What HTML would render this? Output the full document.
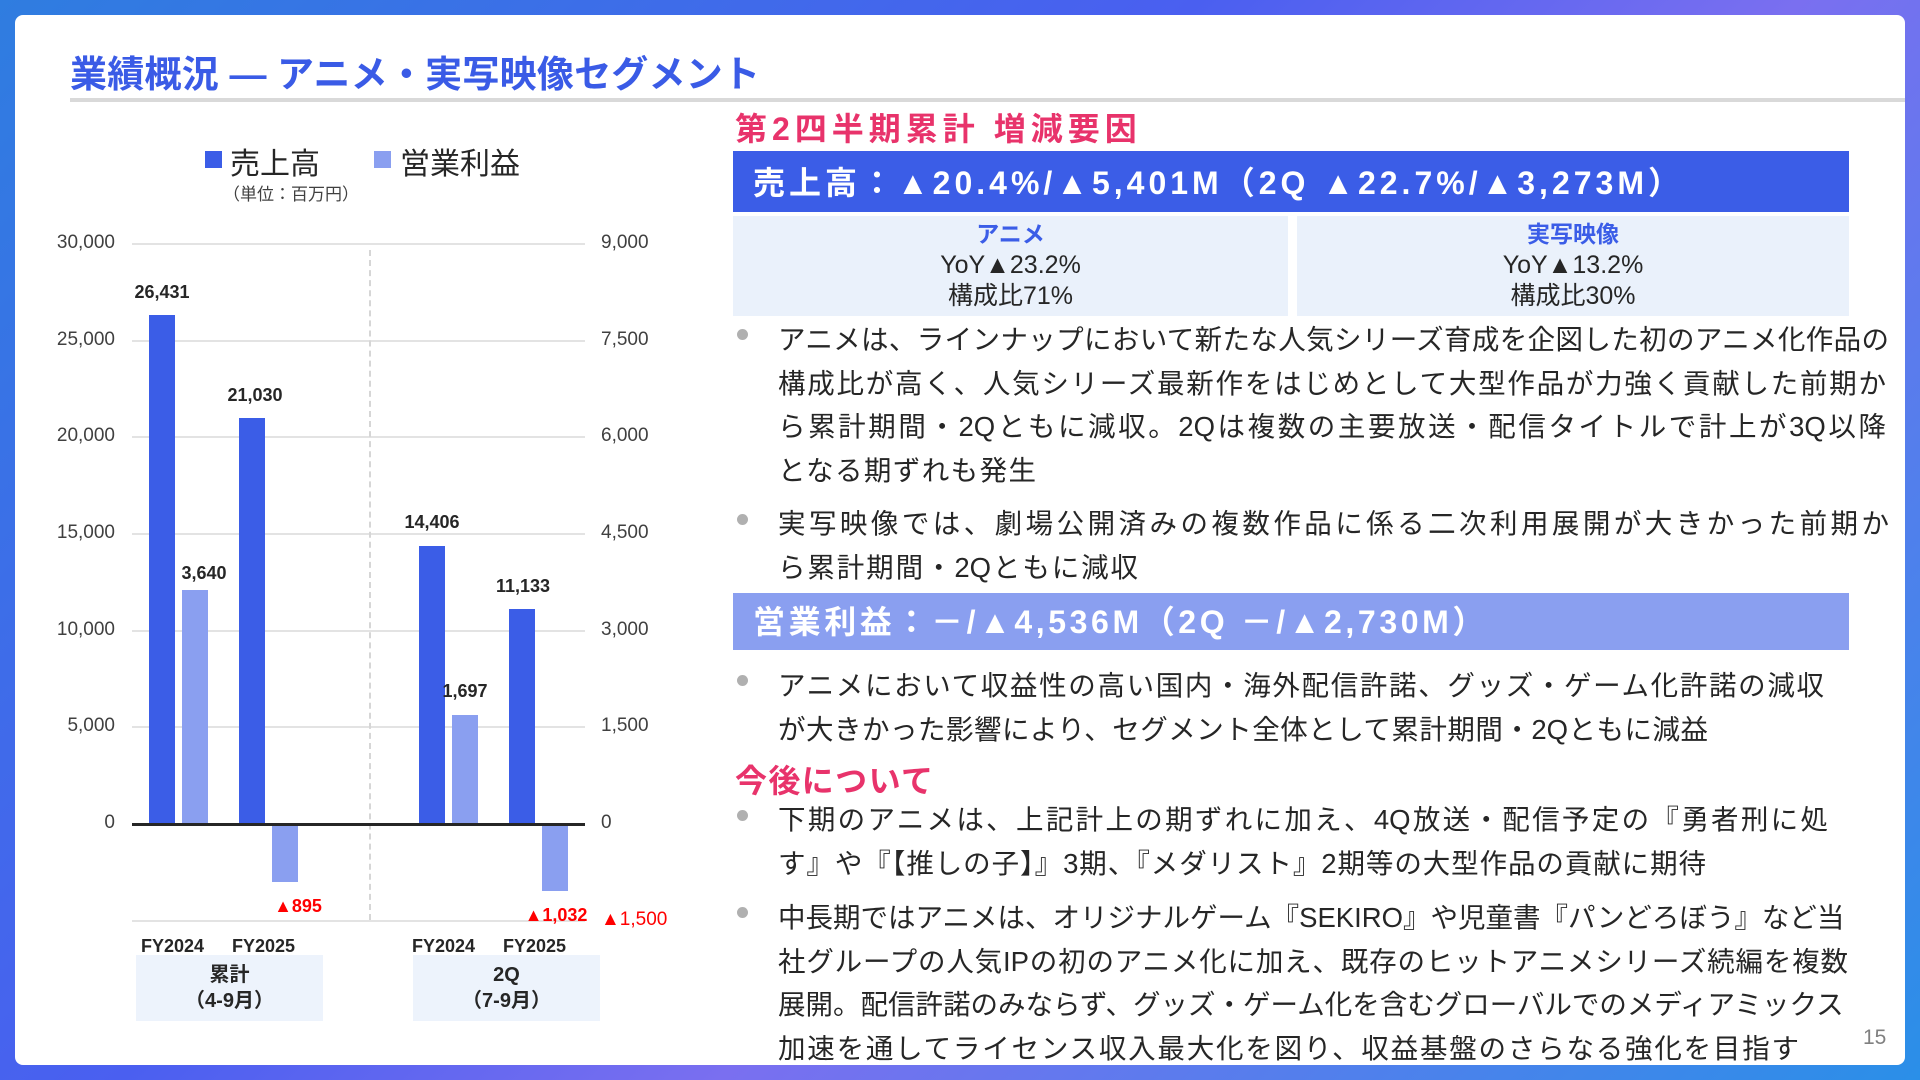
<!DOCTYPE html>
<html><head><meta charset="utf-8">
<style>
*{margin:0;padding:0;box-sizing:border-box}
body{width:1920px;height:1080px;overflow:hidden;position:relative;font-family:"Liberation Sans","Noto Sans CJK JP",sans-serif;
background:linear-gradient(135deg,#2f7de0 0%,#4a5ff0 40%,#7a6ff0 60%,#2a8fe8 100%);}
.card{position:absolute;left:15px;top:15px;width:1890px;height:1050px;background:#fff;border-radius:8px}
.a{position:absolute;white-space:nowrap}
.j{position:absolute;text-align:justify;text-align-last:justify;white-space:normal}
.tl{font-size:37px;font-weight:bold;color:#3a5be6;left:70px;top:44px;width:690px}
.yl{font-size:19px;color:#404040;text-align:right;width:70px}
.yr{font-size:19px;color:#404040}
.grid{position:absolute;left:132px;width:453px;height:2px;background:#e3e3e3}
.bar{position:absolute;width:26px}
.s{background:#3b5de7}.o{background:#8a9ff0}
.v{font-size:18px;font-weight:bold;color:#262626;text-align:center;width:80px}
.r{color:#f00}
.fy{font-size:18px;font-weight:bold;color:#262626}
.cat{position:absolute;background:#edf3fc;width:187px;height:66px;top:955px;text-align:center;font-weight:bold;font-size:20px;line-height:26px;padding-top:7px;color:#262626}
.bt{font-size:27.5px;color:#262626;left:778px;line-height:43.5px}
.bt div{text-align:justify;text-align-last:justify;height:43.5px}
.dot{position:absolute;width:11px;height:11px;border-radius:50%;background:#b0b0b0;left:737px}
.pk{color:#e8336b;font-weight:bold;font-size:32px}
.cell{position:absolute;top:216px;height:100px;background:#eaf1fb;text-align:center;font-size:25px;color:#262626;line-height:31px;padding-top:3px}
.cell b{color:#3b5de7;font-size:23px}
</style></head><body>
<div class="card"></div>
<div class="j tl">業績概況 ― アニメ・実写映像セグメント</div>
<div style="position:absolute;left:70px;top:98px;width:1835px;height:4px;background:#d9d9d9"></div>

<div style="position:absolute;left:205px;top:151px;width:17px;height:17px;background:#3b5de7"></div>
<div class="a" style="left:230px;top:139px;font-size:30px;color:#262626">売上高</div>
<div style="position:absolute;left:374px;top:151px;width:17px;height:17px;background:#8a9ff0"></div>
<div class="a" style="left:400px;top:139px;font-size:30px;color:#262626">営業利益</div>
<div class="a" style="left:223px;top:180px;font-size:17px;color:#404040">（単位：百万円）</div>

<div class="grid" style="top:243px"></div>
<div class="grid" style="top:340px"></div>
<div class="grid" style="top:436px"></div>
<div class="grid" style="top:533px"></div>
<div class="grid" style="top:630px"></div>
<div class="grid" style="top:726px"></div>
<div class="grid" style="top:920px"></div>
<div style="position:absolute;left:369px;top:250px;height:670px;border-left:2px dashed #d6d6d6"></div>

<div class="a yl" style="left:45px;top:232px">30,000</div>
<div class="a yl" style="left:45px;top:329px">25,000</div>
<div class="a yl" style="left:45px;top:425px">20,000</div>
<div class="a yl" style="left:45px;top:522px">15,000</div>
<div class="a yl" style="left:45px;top:619px">10,000</div>
<div class="a yl" style="left:45px;top:715px">5,000</div>
<div class="a yl" style="left:45px;top:812px">0</div>
<div class="a yr" style="left:601px;top:232px">9,000</div>
<div class="a yr" style="left:601px;top:329px">7,500</div>
<div class="a yr" style="left:601px;top:425px">6,000</div>
<div class="a yr" style="left:601px;top:522px">4,500</div>
<div class="a yr" style="left:601px;top:619px">3,000</div>
<div class="a yr" style="left:601px;top:715px">1,500</div>
<div class="a yr" style="left:601px;top:812px">0</div>
<div class="a yr r" style="left:601px;top:909px">▲1,500</div>

<div class="bar s" style="left:149px;top:315px;height:509px"></div>
<div class="bar o" style="left:182px;top:590px;height:234px"></div>
<div class="bar s" style="left:239px;top:418px;height:406px"></div>
<div class="bar o" style="left:272px;top:825px;height:57px"></div>
<div class="bar s" style="left:419px;top:546px;height:278px"></div>
<div class="bar o" style="left:452px;top:715px;height:109px"></div>
<div class="bar s" style="left:509px;top:609px;height:215px"></div>
<div class="bar o" style="left:542px;top:825px;height:66px"></div>
<div style="position:absolute;left:132px;top:823px;width:453px;height:3px;background:#262626"></div>

<div class="a v" style="left:122px;top:282px">26,431</div>
<div class="a v" style="left:164px;top:563px">3,640</div>
<div class="a v" style="left:215px;top:385px">21,030</div>
<div class="a v r" style="left:258px;top:896px">▲895</div>
<div class="a v" style="left:392px;top:512px">14,406</div>
<div class="a v" style="left:425px;top:681px">1,697</div>
<div class="a v" style="left:483px;top:576px">11,133</div>
<div class="a v r" style="left:516px;top:905px">▲1,032</div>

<div class="a fy" style="left:141px;top:936px">FY2024</div>
<div class="a fy" style="left:232px;top:936px">FY2025</div>
<div class="a fy" style="left:412px;top:936px">FY2024</div>
<div class="a fy" style="left:503px;top:936px">FY2025</div>
<div class="cat" style="left:136px">累計<br>（4-9月）</div>
<div class="cat" style="left:413px">2Q<br>（7-9月）</div>

<div class="a pk" style="left:735px;top:104px;letter-spacing:5px">第2四半期累計 増減要因</div>
<div style="position:absolute;left:733px;top:151px;width:1116px;height:61px;background:#3b5de7"></div>
<div class="a" style="left:753px;top:158px;font-size:32px;font-weight:bold;color:#fff;letter-spacing:4px">売上高：▲20.4%/▲5,401M（2Q ▲22.7%/▲3,273M）</div>
<div class="cell" style="left:733px;width:555px"><b>アニメ</b><br>YoY▲23.2%<br>構成比71%</div>
<div class="cell" style="left:1297px;width:552px"><b>実写映像</b><br>YoY▲13.2%<br>構成比30%</div>

<div class="dot" style="top:329px"></div>
<div class="a bt" style="top:318px">
<div style="width:1111px">アニメは、ラインナップにおいて新たな人気シリーズ育成を企図した初のアニメ化作品の</div>
<div style="width:1108px">構成比が高く、人気シリーズ最新作をはじめとして大型作品が力強く貢献した前期か</div>
<div style="width:1108px">ら累計期間・2Qともに減収。2Qは複数の主要放送・配信タイトルで計上が3Q以降</div>
<div style="width:258px">となる期ずれも発生</div></div>
<div class="dot" style="top:514px"></div>
<div class="a bt" style="top:502px">
<div style="width:1111px">実写映像では、劇場公開済みの複数作品に係る二次利用展開が大きかった前期か</div>
<div style="width:360px">ら累計期間・2Qともに減収</div></div>

<div style="position:absolute;left:733px;top:593px;width:1116px;height:57px;background:#8a9ff0"></div>
<div class="a" style="left:753px;top:597px;font-size:32px;font-weight:bold;color:#fff;letter-spacing:3.6px">営業利益：－/▲4,536M（2Q －/▲2,730M）</div>

<div class="dot" style="top:675px"></div>
<div class="a bt" style="top:664px">
<div style="width:1046px">アニメにおいて収益性の高い国内・海外配信許諾、グッズ・ゲーム化許諾の減収</div>
<div style="width:930px">が大きかった影響により、セグメント全体として累計期間・2Qともに減益</div></div>
<div class="j pk" style="left:735px;top:756px;width:198px">今後について</div>
<div class="dot" style="top:810px"></div>
<div class="a bt" style="top:798px">
<div style="width:1050px">下期のアニメは、上記計上の期ずれに加え、4Q放送・配信予定の『勇者刑に処</div>
<div style="width:928px">す』や『【推しの子】』3期、『メダリスト』2期等の大型作品の貢献に期待</div></div>
<div class="dot" style="top:907px"></div>
<div class="a bt" style="top:896px">
<div style="width:1059px">中長期ではアニメは、オリジナルゲーム『SEKIRO』や児童書『パンどろぼう』など当</div>
<div style="width:1070px">社グループの人気IPの初のアニメ化に加え、既存のヒットアニメシリーズ続編を複数</div>
<div style="width:1050px">展開。配信許諾のみならず、グッズ・ゲーム化を含むグローバルでのメディアミックス</div>
<div style="width:1021px">加速を通してライセンス収入最大化を図り、収益基盤のさらなる強化を目指す</div></div>
<div class="a" style="left:1863px;top:1026px;font-size:21px;color:#808080">15</div>
</body></html>
